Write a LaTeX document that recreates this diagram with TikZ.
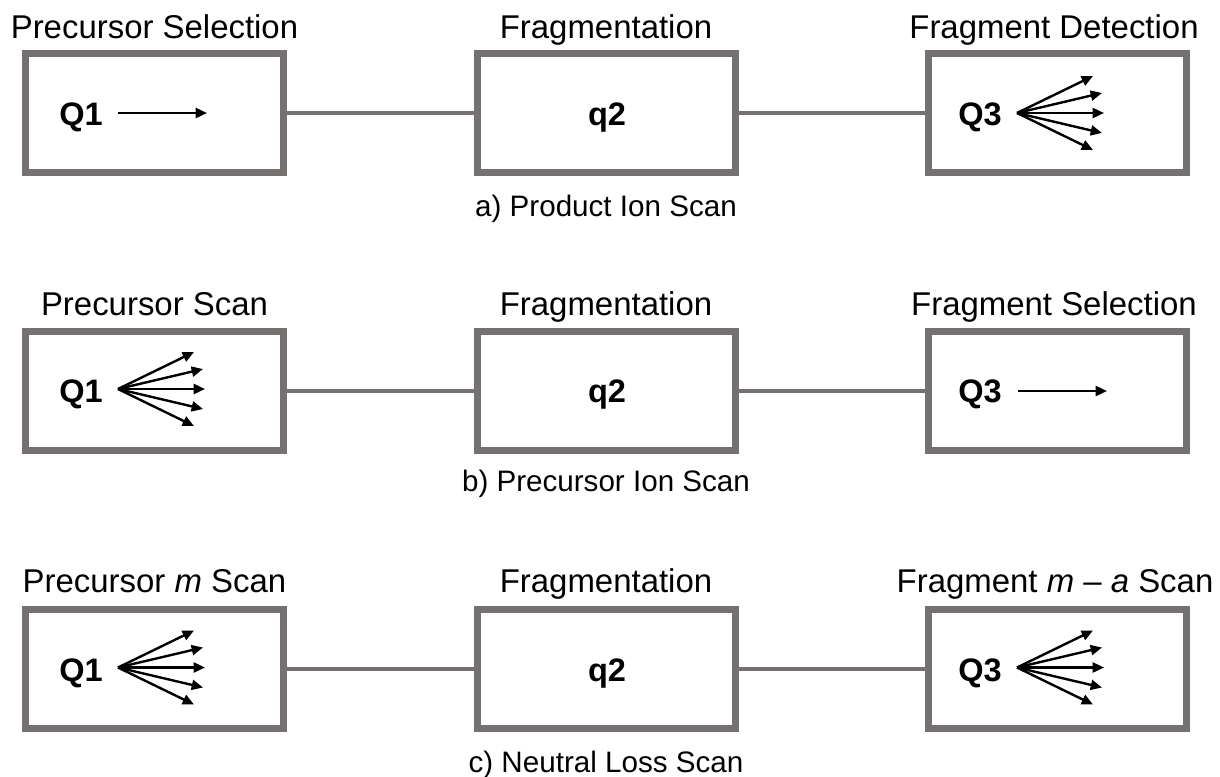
\documentclass[tikz,border=0pt]{standalone}
\usepackage{fontspec}
\setmainfont{Liberation Sans}
\usetikzlibrary{arrows.meta}
\definecolor{boxgray}{RGB}{118,113,113}
\newcommand\ionfan[3]{%
  \coordinate (#1) at (#2,#3);
  \foreach \dx/\dy [count=\k] in {76/-37,85/-20,87/0,85/20,76/37} {%
    \coordinate (#1-\k) at (#2+\dx,#3+\dy);
    \draw[ion] (#1) -- (#1-\k);
  }%
}
\begin{document}
\begin{tikzpicture}[x=0.75pt,y=-0.75pt,
  stage/.style={draw=boxgray, line width=5.25pt, minimum width=193.5pt, minimum height=89.25pt, inner sep=0pt},
  conn/.style={draw=boxgray, line width=3pt},
  title/.style={font=\fontsize{24.7}{29}\selectfont, anchor=base, inner sep=0pt},
  caption/.style={font=\fontsize{22.2}{26}\selectfont, anchor=base, inner sep=0pt},
  qlabel/.style={font=\fontsize{24.4}{29}\selectfont\bfseries, anchor=base, inner sep=0pt},
  ion/.style={line width=1.8pt, -{Triangle[length=8.5pt,width=7.5pt]}}
]
\useasboundingbox (0,0) rectangle (1220,776);

% ---------- row a ----------
\node[stage] (a1) at (154.5,113) {};
\node[stage] (a2) at (606,113) {};
\node[stage] (a3) at (1057.5,113) {};
\draw[conn] (a1.east) -- (a2.west);
\draw[conn] (a2.east) -- (a3.west);
\node[title] (ta1) at (154.5,38) {Precursor Selection};
\node[title] (ta2) at (606,38) {Fragmentation};
\node[title] (ta3) at (1054,38) {Fragment Detection};
\node[caption] (capa) at (606,216.5) {a) Product Ion Scan};
\node[qlabel] (qa1) at (81,125) {Q1};
\node[qlabel] (qa2) at (607,125) {q2};
\node[qlabel] (qa3) at (980,125) {Q3};
\coordinate (sa0) at (118,113);
\coordinate (sa1) at (207,113);
\draw[ion] (sa0) -- (sa1);
\ionfan{fa}{1017}{113}

% ---------- row b ----------
\node[stage] (b1) at (154.5,390.5) {};
\node[stage] (b2) at (606,390.5) {};
\node[stage] (b3) at (1057.5,390.5) {};
\draw[conn] (b1.east) -- (b2.west);
\draw[conn] (b2.east) -- (b3.west);
\node[title] (tb1) at (154.5,315.7) {Precursor Scan};
\node[title] (tb2) at (606,315.7) {Fragmentation};
\node[title] (tb3) at (1054,315.7) {Fragment Selection};
\node[caption] (capb) at (606,491.5) {b) Precursor Ion Scan};
\node[qlabel] (qb1) at (81,402.5) {Q1};
\node[qlabel] (qb2) at (607,402.5) {q2};
\node[qlabel] (qb3) at (980,402.5) {Q3};
\ionfan{fb}{118}{389}
\coordinate (sb0) at (1018,391);
\coordinate (sb1) at (1107,391);
\draw[ion] (sb0) -- (sb1);

% ---------- row c ----------
\node[stage] (c1) at (154.5,669) {};
\node[stage] (c2) at (606,669) {};
\node[stage] (c3) at (1057.5,669) {};
\draw[conn] (c1.east) -- (c2.west);
\draw[conn] (c2.east) -- (c3.west);
\node[title] (tc1) at (154.5,592) {Precursor \textit{m} Scan};
\node[title] (tc2) at (606,592) {Fragmentation};
\node[title] (tc3) at (1055,592) {Fragment \textit{m} – \textit{a} Scan};
\node[caption] (capc) at (606,772) {c) Neutral Loss Scan};
\node[qlabel] (qc1) at (81,681) {Q1};
\node[qlabel] (qc2) at (607,681) {q2};
\node[qlabel] (qc3) at (980,681) {Q3};
\ionfan{fc1}{118}{667.5}
\ionfan{fc3}{1017}{667.5}
\end{tikzpicture}
\end{document}
